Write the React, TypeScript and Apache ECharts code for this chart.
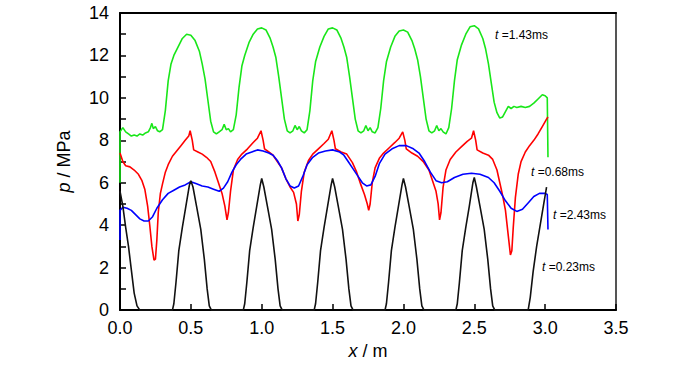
import React, { useEffect, useRef } from "react";
import * as echarts from "echarts";

const xTicks = [0, 0.5, 1.0, 1.5, 2.0, 2.5, 3.0, 3.5];
const yTicks = [0, 2, 4, 6, 8, 10, 12, 14];

const seriesNames = ["t=1.43ms", "t=0.68ms", "t=2.43ms", "t=0.23ms"];
const seriesColors = ["#19e619", "#ff0000", "#0000ff", "#111111"];

const green: number[][] = [
  [0, 6.0], [0, 8.4], [0.02, 8.6], [0.04, 8.4], [0.06, 8.3], [0.08, 8.2], [0.1, 8.25], [0.12, 8.2],
  [0.14, 8.3], [0.16, 8.25], [0.18, 8.35], [0.2, 8.4], [0.215, 8.6], [0.225, 8.8], [0.235, 8.55],
  [0.25, 8.65], [0.265, 8.45], [0.28, 8.4], [0.3, 8.5], [0.32, 9.4], [0.34, 10.8], [0.36, 11.6],
  [0.38, 12.0], [0.41, 12.4], [0.44, 12.8], [0.47, 13.0], [0.5, 12.95], [0.53, 12.7], [0.56, 12.2],
  [0.58, 11.6], [0.6, 10.9], [0.62, 9.9], [0.64, 8.9], [0.66, 8.4], [0.68, 8.3], [0.7, 8.4],
  [0.72, 8.5], [0.735, 8.75], [0.75, 8.5], [0.765, 8.55], [0.78, 8.4], [0.8, 8.5], [0.82, 9.2],
  [0.84, 10.5], [0.86, 11.5], [0.88, 12.0], [0.91, 12.6], [0.94, 13.0], [0.97, 13.25], [1.0, 13.3],
  [1.03, 13.2], [1.06, 12.8], [1.08, 12.4], [1.1, 11.9], [1.12, 11.0], [1.14, 10.0], [1.16, 9.0],
  [1.18, 8.45], [1.2, 8.35], [1.22, 8.45], [1.235, 8.7], [1.25, 8.5], [1.265, 8.65], [1.28, 8.45],
  [1.3, 8.35], [1.32, 8.5], [1.34, 9.4], [1.36, 10.8], [1.38, 11.7], [1.41, 12.4], [1.44, 12.9],
  [1.47, 13.25], [1.5, 13.3], [1.53, 13.2], [1.56, 12.8], [1.58, 12.4], [1.6, 11.9], [1.62, 11.0],
  [1.64, 10.0], [1.66, 9.0], [1.68, 8.45], [1.7, 8.35], [1.72, 8.45], [1.735, 8.7], [1.75, 8.45],
  [1.765, 8.6], [1.78, 8.4], [1.8, 8.35], [1.82, 8.6], [1.84, 9.5], [1.86, 10.8], [1.88, 11.7],
  [1.91, 12.4], [1.94, 12.9], [1.97, 13.15], [2.0, 13.2], [2.03, 13.1], [2.06, 12.7], [2.08, 12.3],
  [2.1, 11.8], [2.12, 11.0], [2.14, 10.0], [2.16, 9.0], [2.18, 8.45], [2.2, 8.35], [2.22, 8.45],
  [2.235, 8.7], [2.25, 8.45], [2.265, 8.55], [2.28, 8.4], [2.3, 8.3], [2.32, 8.6], [2.34, 9.5],
  [2.36, 10.8], [2.38, 11.8], [2.41, 12.5], [2.44, 13.0], [2.47, 13.35], [2.5, 13.4], [2.53, 13.25],
  [2.56, 12.8], [2.58, 12.3], [2.6, 11.6], [2.62, 10.7], [2.64, 9.8], [2.66, 9.3], [2.68, 9.05],
  [2.7, 9.1], [2.72, 9.35], [2.74, 9.6], [2.76, 9.5], [2.78, 9.6], [2.8, 9.55], [2.83, 9.6],
  [2.86, 9.55], [2.89, 9.6], [2.92, 9.75], [2.95, 9.95], [2.98, 10.15], [3.0, 10.1], [3.015, 10.0],
  [3.02, 7.2]
];

const red: number[][] = [
  [0, 7.4], [0.02, 7.0], [0.04, 6.8], [0.07, 6.75], [0.1, 6.6], [0.13, 6.4], [0.155, 6.1],
  [0.175, 5.7], [0.195, 4.9], [0.21, 4.0], [0.225, 3.0], [0.24, 2.35], [0.25, 2.4], [0.26, 3.3],
  [0.27, 4.6], [0.285, 5.5], [0.3, 5.95], [0.32, 6.5], [0.34, 6.85], [0.37, 7.25], [0.4, 7.5],
  [0.43, 7.75], [0.46, 8.0], [0.485, 8.2], [0.495, 8.45], [0.51, 8.0], [0.52, 7.55], [0.55, 7.45],
  [0.58, 7.35], [0.61, 7.2], [0.64, 7.0], [0.67, 6.5], [0.7, 5.9], [0.72, 5.5], [0.74, 4.9],
  [0.755, 4.25], [0.765, 4.6], [0.78, 5.6], [0.8, 6.6], [0.83, 7.1], [0.86, 7.35], [0.9, 7.6],
  [0.94, 7.9], [0.97, 8.1], [0.995, 8.45], [1.01, 8.0], [1.02, 7.6], [1.05, 7.45], [1.08, 7.3],
  [1.11, 7.0], [1.14, 6.7], [1.17, 6.2], [1.2, 5.8], [1.225, 5.55], [1.245, 5.0], [1.255, 4.2],
  [1.265, 4.5], [1.28, 5.6], [1.3, 6.5], [1.33, 7.05], [1.36, 7.35], [1.4, 7.6], [1.44, 7.85],
  [1.47, 8.05], [1.495, 8.45], [1.51, 8.0], [1.52, 7.6], [1.56, 7.45], [1.6, 7.35], [1.64, 6.95],
  [1.67, 6.5], [1.7, 5.9], [1.725, 5.45], [1.745, 5.0], [1.755, 4.7], [1.765, 5.0], [1.78, 6.0],
  [1.8, 6.7], [1.83, 7.15], [1.86, 7.4], [1.9, 7.65], [1.94, 7.9], [1.97, 8.1], [1.995, 8.4],
  [2.01, 8.0], [2.02, 7.6], [2.06, 7.4], [2.1, 7.25], [2.14, 7.0], [2.18, 6.6], [2.21, 6.0],
  [2.23, 5.6], [2.245, 5.0], [2.255, 4.25], [2.265, 4.6], [2.28, 5.8], [2.3, 6.6], [2.33, 7.1],
  [2.37, 7.45], [2.41, 7.7], [2.45, 7.95], [2.48, 8.1], [2.495, 8.45], [2.51, 8.0], [2.52, 7.55],
  [2.56, 7.4], [2.6, 7.3], [2.63, 7.1], [2.66, 6.6], [2.68, 6.0], [2.7, 5.4], [2.72, 4.7],
  [2.74, 3.5], [2.755, 2.6], [2.765, 2.8], [2.775, 3.9], [2.79, 5.3], [2.81, 6.4], [2.83, 7.0],
  [2.86, 7.45], [2.89, 7.75], [2.92, 8.0], [2.95, 8.3], [2.98, 8.65], [3.01, 9.0], [3.02, 9.1]
];

const blue: number[][] = [
  [0, 3.3], [0, 4.7], [0.02, 4.85], [0.05, 4.8], [0.08, 4.7], [0.11, 4.5], [0.14, 4.3],
  [0.17, 4.2], [0.2, 4.2], [0.23, 4.4], [0.26, 4.8], [0.3, 5.2], [0.34, 5.5], [0.38, 5.65],
  [0.42, 5.8], [0.46, 5.9], [0.5, 6.05], [0.54, 5.95], [0.58, 5.85], [0.62, 5.8], [0.66, 5.7],
  [0.7, 5.6], [0.73, 5.75], [0.76, 6.05], [0.79, 6.5], [0.82, 6.85], [0.85, 7.1], [0.89, 7.35],
  [0.93, 7.45], [0.97, 7.55], [1.01, 7.5], [1.05, 7.4], [1.08, 7.3], [1.11, 7.05], [1.14, 6.7],
  [1.17, 6.2], [1.2, 5.85], [1.23, 5.75], [1.26, 5.85], [1.29, 6.3], [1.32, 6.85], [1.36, 7.2],
  [1.4, 7.4], [1.45, 7.5], [1.5, 7.55], [1.55, 7.45], [1.58, 7.3], [1.61, 7.0], [1.64, 6.7],
  [1.68, 6.3], [1.71, 6.0], [1.74, 5.85], [1.77, 5.9], [1.8, 6.3], [1.83, 6.9], [1.87, 7.35],
  [1.92, 7.6], [1.97, 7.75], [2.02, 7.75], [2.07, 7.6], [2.11, 7.4], [2.15, 7.0], [2.19, 6.5],
  [2.23, 6.1], [2.27, 6.0], [2.31, 6.05], [2.36, 6.25], [2.42, 6.4], [2.48, 6.45], [2.54, 6.4],
  [2.6, 6.25], [2.64, 6.0], [2.68, 5.6], [2.72, 5.15], [2.76, 4.8], [2.8, 4.65], [2.84, 4.75],
  [2.88, 5.05], [2.92, 5.35], [2.96, 5.5], [3.0, 5.5], [3.015, 5.45], [3.02, 3.8]
];

const black: number[][] = [
  [0, 5.6], [0.02, 4.9], [0.04, 3.9], [0.06, 3.0], [0.08, 1.9], [0.1, 0.8], [0.12, 0.2], [0.14, 0],
  [0.37, 0], [0.38, 0.3], [0.395, 1.3], [0.415, 2.8], [0.44, 3.9], [0.465, 4.9], [0.49, 5.9],
  [0.5, 6.1], [0.515, 5.8], [0.54, 4.9], [0.57, 3.8], [0.595, 2.4], [0.615, 1.0], [0.63, 0.2], [0.645, 0],
  [0.87, 0], [0.88, 0.3], [0.895, 1.3], [0.915, 2.8], [0.94, 3.9], [0.965, 4.9], [0.99, 5.9],
  [1.0, 6.2], [1.015, 5.8], [1.04, 4.9], [1.07, 3.8], [1.095, 2.4], [1.115, 1.0], [1.13, 0.2], [1.145, 0],
  [1.37, 0], [1.38, 0.3], [1.395, 1.3], [1.415, 2.8], [1.44, 3.9], [1.465, 4.9], [1.49, 5.9],
  [1.5, 6.2], [1.515, 5.8], [1.54, 4.9], [1.57, 3.8], [1.595, 2.4], [1.615, 1.0], [1.63, 0.2], [1.645, 0],
  [1.87, 0], [1.88, 0.3], [1.895, 1.3], [1.915, 2.8], [1.94, 3.9], [1.965, 4.9], [1.99, 5.9],
  [2.0, 6.2], [2.015, 5.8], [2.04, 4.9], [2.07, 3.8], [2.095, 2.4], [2.115, 1.0], [2.13, 0.2], [2.145, 0],
  [2.37, 0], [2.38, 0.3], [2.395, 1.3], [2.415, 2.8], [2.44, 3.9], [2.465, 4.9], [2.49, 6.0],
  [2.5, 6.25], [2.515, 5.8], [2.54, 4.9], [2.57, 3.8], [2.595, 2.4], [2.615, 1.0], [2.63, 0.2], [2.645, 0],
  [2.88, 0], [2.895, 0.6], [2.915, 1.8], [2.94, 3.0], [2.965, 4.0], [2.99, 5.0], [3.01, 5.8]
];

const annotations = [
  { time: "1.43ms", x: 495, y: 29 },
  { time: "0.68ms", x: 531, y: 166 },
  { time: "2.43ms", x: 553, y: 209 },
  { time: "0.23ms", x: 542, y: 261 }
];

const FONT = "'Liberation Sans', Arial, sans-serif";

export default function App() {
  const ref = useRef<HTMLDivElement>(null);
  useEffect(() => {
    if (!ref.current) return;
    const chart = echarts.init(ref.current, null, { renderer: "svg" });
    const dataSets = [green, red, blue, black];
    const option: any = {
      animation: false,
      backgroundColor: "#ffffff",
      grid: { left: 120, right: 84, top: 13, bottom: 52, containLabel: false },
      xAxis: [
        {
          type: "value",
          min: 0,
          max: 3.5,
          interval: 0.5,
          position: "bottom",
          name: "{i|x} / m",
          nameLocation: "middle",
          nameGap: 28,
          nameTextStyle: {
            color: "#000",
            fontSize: 18,
            fontFamily: FONT,
            rich: {
              i: { fontStyle: "italic", fontSize: 18, fontFamily: FONT, color: "#000" }
            }
          },
          axisLine: { show: true, onZero: false, lineStyle: { color: "#000", width: 2 } },
          axisTick: { show: true, inside: true, length: 6, lineStyle: { color: "#000", width: 1.5 } },
          axisLabel: {
            color: "#000",
            fontSize: 18,
            fontFamily: FONT,
            margin: 9,
            formatter: (v: number) => (xTicks.includes(v) ? v.toFixed(1) : "")
          },
          splitLine: { show: false }
        },
        {
          type: "value",
          min: 0,
          max: 3.5,
          position: "top",
          axisLine: { show: true, onZero: false, lineStyle: { color: "#000", width: 2 } },
          axisTick: { show: false },
          axisLabel: { show: false },
          splitLine: { show: false }
        }
      ],
      yAxis: [
        {
          type: "value",
          min: 0,
          max: 14,
          interval: 2,
          position: "left",
          name: "{i|p} / MPa",
          nameLocation: "middle",
          nameRotate: 90,
          nameGap: 47,
          nameTextStyle: {
            color: "#000",
            fontSize: 18,
            fontFamily: FONT,
            rich: {
              i: { fontStyle: "italic", fontSize: 18, fontFamily: FONT, color: "#000" }
            }
          },
          axisLine: { show: true, onZero: false, lineStyle: { color: "#000", width: 2 } },
          axisTick: { show: true, inside: true, length: 6, lineStyle: { color: "#000", width: 1.5 } },
          minorTick: { show: true, splitNumber: 2, length: 6, lineStyle: { color: "#000", width: 1.5 } },
          axisLabel: {
            color: "#000",
            fontSize: 18,
            fontFamily: FONT,
            margin: 11,
            formatter: (v: number) => (yTicks.includes(v) ? String(v) : "")
          },
          splitLine: { show: false }
        },
        {
          type: "value",
          min: 0,
          max: 14,
          position: "right",
          axisLine: { show: true, onZero: false, lineStyle: { color: "#555", width: 2 } },
          axisTick: { show: false },
          axisLabel: { show: false },
          splitLine: { show: false }
        }
      ],
      series: dataSets.map((d, i) => ({
        name: seriesNames[i],
        type: "line",
        xAxisIndex: 0,
        yAxisIndex: 0,
        data: d,
        showSymbol: false,
        symbol: "none",
        lineStyle: { color: seriesColors[i], width: 1.6 },
        itemStyle: { color: seriesColors[i] },
        z: 2 + i
      })),
      graphic: annotations.map((a) => ({
        type: "text",
        x: a.x,
        y: a.y,
        style: {
          text: "{i|t} =" + a.time,
          fontSize: 12,
          fontFamily: FONT,
          fill: "#000",
          rich: {
            i: { fontStyle: "italic", fontSize: 12, fontFamily: FONT, fill: "#000", color: "#000" }
          }
        }
      }))
    };
    chart.setOption(option);
    return () => chart.dispose();
  }, []);
  return (
    <div
      ref={ref}
      style={{ position: "fixed", left: 0, top: 0, width: 700, height: 365 }}
    />
  );
}
